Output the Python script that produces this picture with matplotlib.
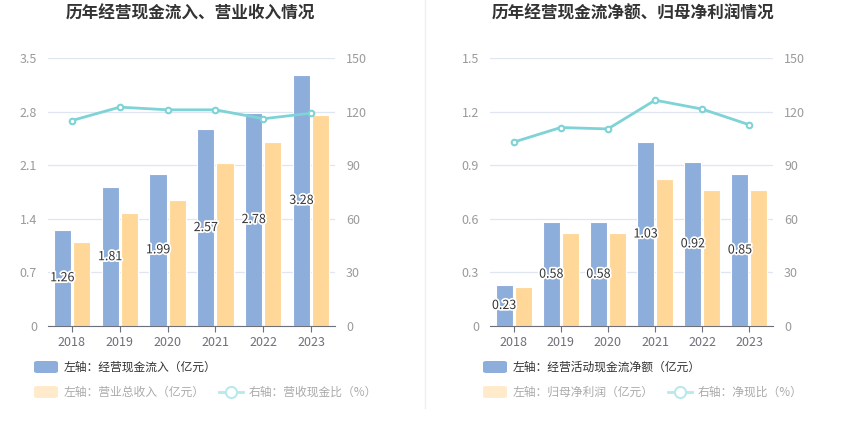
import numpy as np
import matplotlib.pyplot as plt
import matplotlib.patheffects as pe
from matplotlib.patches import FancyBboxPatch
from matplotlib.lines import Line2D

plt.rcParams['font.family'] = ['Noto Sans CJK SC', 'DejaVu Sans']

years = ['2018', '2019', '2020', '2021', '2022', '2023']

# left panel
cash_in = [1.26, 1.81, 1.99, 2.57, 2.78, 3.28]
revenue = [1.10, 1.48, 1.64, 2.13, 2.40, 2.75]
cash_ratio = [115.0, 122.5, 121.0, 121.0, 116.0, 119.1]

# right panel
net_cash = [0.23, 0.58, 0.58, 1.03, 0.92, 0.85]
net_profit = [0.22, 0.52, 0.52, 0.82, 0.76, 0.76]
net_ratio = [102.9, 111.1, 110.3, 126.4, 121.4, 112.6]

BLUE = '#8DADDA'
ORANGE = '#FFD899'
LINE = '#7ED3D6'
GRID = '#E0E6F1'
TICK = '#6E7079'
YTICK = '#9A9A9A'

W, H = 850, 437
fig = plt.figure(figsize=(8.5, 4.37), dpi=100)


def fx(px):
    return px / W


def fy(py):
    return 1 - py / H


def panel(left_px, right_px, bar1, bar2, ratio, ymax, ystep, title, title_x):
    ax = fig.add_axes([fx(left_px), fy(326), fx(right_px - left_px), fy(58) - fy(326)])
    ax2 = ax.twinx()
    x = np.arange(len(years))
    w = 0.36
    ax.bar(x - 0.2, bar1, w, color=BLUE, edgecolor='white', linewidth=0.8, zorder=2)
    ax.bar(x + 0.2, bar2, w, color=ORANGE, edgecolor='white', linewidth=0.8, zorder=2)
    for xi, v in zip(x, bar1):
        ax.text(xi - 0.2, v / 2, '%.2f' % v, ha='center', va='center', fontsize=9,
                color='#333333', zorder=5,
                path_effects=[pe.withStroke(linewidth=2.5, foreground='white')])
    ax2.plot(x, ratio, color=LINE, linewidth=2, marker='o', markersize=4,
             markerfacecolor='white', markeredgecolor=LINE, markeredgewidth=1.5, zorder=3)

    ticks = np.round(np.arange(0, ymax + 1e-9, ystep), 2)
    ax.set_xlim(-0.5, len(years) - 0.5)
    ax.set_ylim(0, ymax)
    ax.set_yticks(ticks)
    ax.set_yticklabels(['%g' % t for t in ticks])
    ax2.set_ylim(0, 150)
    ax2.set_yticks(np.arange(0, 151, 30))
    ax.set_xticks(x)
    ax.set_xticklabels(years)
    ax.grid(axis='y', color=GRID, linewidth=0.9, zorder=0)
    ax.set_axisbelow(True)
    for a in (ax, ax2):
        for s in ('top', 'left', 'right'):
            a.spines[s].set_visible(False)
        a.spines['bottom'].set_color('#6E7079')
        a.tick_params(axis='y', length=0, labelsize=9, labelcolor=YTICK, pad=8)
    ax2.spines['bottom'].set_visible(False)
    ax.tick_params(axis='x', length=4, color='#6E7079', labelsize=9, labelcolor=TICK, pad=3)
    ax.patch.set_visible(False)
    ax2.patch.set_visible(False)
    fig.text(fx(title_x), fy(14), title, ha='center', va='center', fontsize=12,
             fontweight='bold', color='#333333')
    return ax


def legend(px, row1, row2, row3):
    # row 1, active bar
    fig.patches.append(FancyBboxPatch((fx(px), fy(373)), fx(24), fy(361) - fy(373),
                                      boxstyle='round,pad=0,rounding_size=0.004',
                                      transform=fig.transFigure, facecolor=BLUE,
                                      edgecolor='none'))
    fig.text(fx(px + 30), fy(367), row1, ha='left', va='center', fontsize=8.5, color='#333333')
    # row 2, faded items
    fig.patches.append(FancyBboxPatch((fx(px), fy(398)), fx(24), fy(386) - fy(398),
                                      boxstyle='round,pad=0,rounding_size=0.004',
                                      transform=fig.transFigure, facecolor='#FFEBCC',
                                      edgecolor='none'))
    fig.text(fx(px + 30), fy(392), row2, ha='left', va='center', fontsize=8.5, color='#AAAAAA')
    lx = px + 185
    fig.lines.append(Line2D([fx(lx), fx(lx + 24)], [fy(392), fy(392)], transform=fig.transFigure,
                            color='#B8E9EB', linewidth=2))
    fig.lines.append(Line2D([fx(lx + 12)], [fy(392)], transform=fig.transFigure, marker='o',
                            markersize=8, markerfacecolor='white', markeredgecolor='#B8E9EB',
                            markeredgewidth=1.5, linestyle='none'))
    fig.text(fx(lx + 30), fy(392), row3, ha='left', va='center', fontsize=8.5, color='#AAAAAA')


panel(48, 335, cash_in, revenue, cash_ratio, 3.5, 0.7, '历年经营现金流入、营业收入情况', 190)
panel(490, 773, net_cash, net_profit, net_ratio, 1.5, 0.3, '历年经营现金流净额、归母净利润情况', 633)

legend(34, '左轴：经营现金流入（亿元）', '左轴：营业总收入（亿元）', '右轴：营收现金比（%）')
legend(483, '左轴：经营活动现金流净额（亿元）', '左轴：归母净利润（亿元）', '右轴：净现比（%）')

fig.lines.append(Line2D([fx(425), fx(425)], [fy(0), fy(408)], transform=fig.transFigure,
                        color='#EEEEEE', linewidth=1))

fig.savefig('out.png', dpi=100, facecolor='white')
